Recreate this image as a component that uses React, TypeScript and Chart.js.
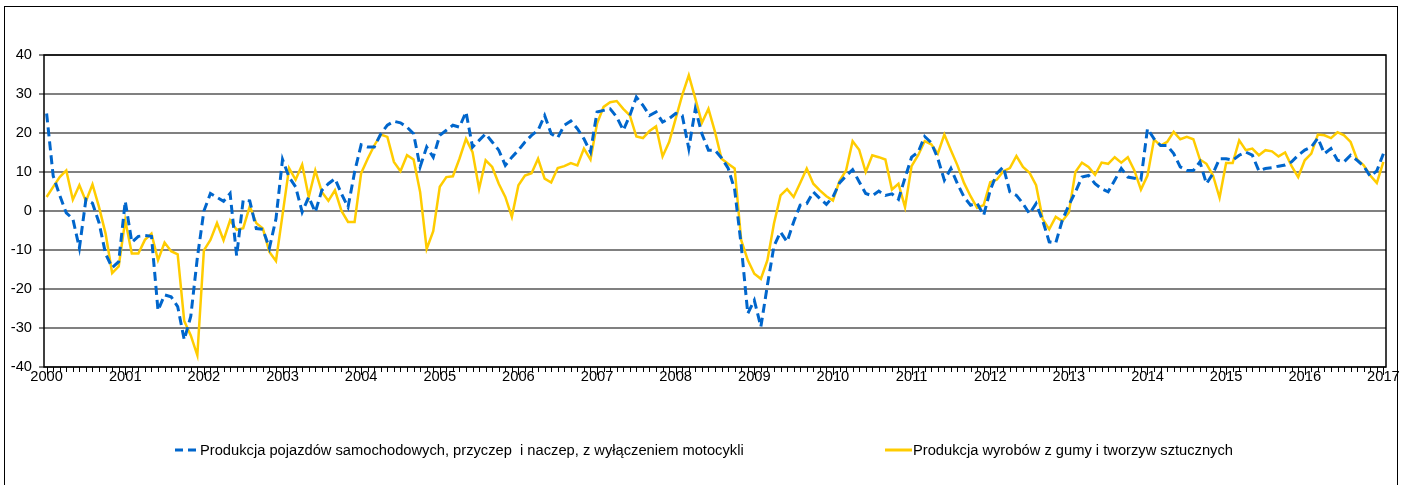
import React, { useEffect, useRef } from 'react';
import { Chart, registerables } from 'chart.js';

Chart.register(...registerables);

const yearLabels = ['2000','2001','2002','2003','2004','2005','2006','2007','2008','2009','2010','2011','2012','2013','2014','2015','2016','2017'];

const seriesNames = [
  'Produkcja pojazdów samochodowych, przyczep  i naczep, z wyłączeniem motocykli',
  'Produkcja wyrobów z gumy i tworzyw sztucznych',
];

// monthly values, Jan 2000 .. Jan 2017
const vehicles = [
  25, 9, 4, -0.5, -2, -9.5, 3, 2, -3, -11, -14.5, -13,
  2.5, -8, -6.5, -6.3, -6.5, -25.5, -21.5, -22, -24.5, -33, -27, -12,
  0, 4.5, 3.5, 2.5, 4.5, -11.5, 2.8, 2.6, -4.5, -4.7, -9.5, -2,
  13.2, 8.7, 6.2, -0.3, 3.6, -0.3, 5.3, 7.0, 8.3, 4.4, 1.0, 10.0,
  17.0, 16.4, 16.4, 19.8, 22.0, 23.0, 22.6, 21.5, 19.8, 11.3, 16.4, 13.8,
  19.4, 20.7, 22.0, 21.5, 25.4, 16.4, 18.1, 19.8, 17.7, 15.6, 11.7, 13.8,
  15.6, 17.7, 19.4, 20.7, 24.5, 19.8, 18.8, 22.0, 23.1, 21.1, 18.5, 15.1,
  25.4, 25.8, 26.2, 24.1, 20.7, 24.5, 29.2, 27.1, 24.5, 25.4, 22.8, 23.7,
  25.0, 24.5, 16.0, 26.2, 19.8, 15.6, 15.6, 13.6, 11, 5.5, -8.8, -26.3,
  -22.9, -29.7, -19, -9, -5.4, -7.9, -2.8, 1.5, 1.9, 4.9, 3.2, 1.7,
  3.6, 7.2, 9.0, 10.6, 7.5, 4.5, 3.9, 5.1, 4.0, 4.4, 3.0, 8.5,
  13.8, 15.1, 19.1, 17.5, 13.5, 7.9, 10.9, 7.0, 3.6, 1.5, 2.0, -1.1,
  5.3, 9.6, 11.3, 4.9, 4.0, 1.9, -0.7, 1.9, -2.4, -7.9, -8.2, -2.4,
  1.5, 4.9, 8.7, 9.1, 7.0, 5.7, 4.9, 7.9, 10.9, 8.7, 8.4, 8.0,
  21.1, 18.5, 16.8, 16.8, 14.7, 11.3, 10.4, 10.4, 12.6, 7.0, 9.6, 13.4,
  13.4, 13.0, 14.3, 15.1, 14.3, 10.3, 10.9, 11.1, 11.5, 11.8, 12.6, 14.3,
  15.6, 16.4, 18.7, 14.7, 16.0, 13.0, 12.6, 14.3, 13.0, 11.5, 8.9, 10.3,
  14.7,
];

const rubber = [
  3.6, 6.2, 8.7, 10.4, 2.9, 6.6, 2.5, 6.8, 1.0, -5.8, -15.9, -14.2,
  -2.4, -10.9, -10.9, -7.4, -5.8, -12.6, -8.1, -10.3, -11.1, -28.2, -31.9, -37.0,
  -10.1, -7.4, -3.1, -7.5, -2.4, -4.8, -4.4, 1.2, -3.1, -4.5, -10.5, -12.8,
  -1, 11.0, 8.0, 11.9, 3.6, 10.4, 4.9, 2.6, 5.3, 0, -2.8, -2.8,
  9.7, 13.4, 16.8, 19.6, 19.0, 12.6, 10.2, 14.3, 13.2, 4.9, -9.7, -5.2,
  6.2, 8.7, 8.9, 13.4, 18.5, 15.1, 5.7, 13.0, 11.3, 7.0, 3.6, -1.5,
  6.6, 9.1, 9.7, 13.4, 8.3, 7.3, 11.0, 11.5, 12.3, 11.7, 16.0, 13.2,
  22.4, 26.7, 27.9, 28.2, 26.2, 24.5, 19.1, 18.7, 20.5, 21.7, 14.0, 17.7,
  23.7, 29.7, 34.8, 28.8, 22.6, 26.2, 20.3, 13.4, 12.1, 10.9, -7.5, -12.6,
  -16.1, -17.4, -12.6, -3.2, 4.0, 5.6, 3.6, 7.2, 10.9, 7.0, 5.3, 3.8,
  2.7, 7.7, 10.4, 17.9, 15.7, 10.0, 14.3, 13.8, 13.2, 5.5, 7.0, 1.0,
  11.5, 14.3, 17.9, 17.1, 14.7, 19.6, 15.6, 11.7, 7.2, 3.8, 0.8, 1.5,
  7.4, 8.0, 10.2, 11.0, 14.1, 11.3, 9.8, 6.6, -2.0, -4.7, -1.5, -2.6,
  -0.4, 10.0, 12.4, 11.3, 9.3, 12.4, 12.1, 13.8, 12.4, 13.8, 10.4, 5.5,
  9.1, 18.3, 16.8, 17.7, 20.3, 18.4, 19.0, 18.4, 13.2, 12.1, 9.1, 3.4,
  12.3, 12.3, 18.1, 15.6, 16.0, 14.3, 15.6, 15.3, 14.0, 15.0, 11.5, 8.7,
  13.0, 14.7, 19.6, 19.4, 18.7, 20.2, 19.4, 17.7, 13.2, 11.7, 9.1, 7.2,
  12.6,
];

const yTicks = [-40, -30, -20, -10, 0, 10, 20, 30, 40];

const BLUE = '#0066CC';
const YELLOW = '#FFCC00';
const FONT = '"Liberation Sans", Arial, sans-serif';

const frameTicks = {
  id: 'frameTicks',
  afterDraw(chart: any) {
    const { ctx, chartArea } = chart;
    const xs = chart.scales.x;
    ctx.save();
    ctx.strokeStyle = '#000';
    ctx.lineWidth = 1.5;
    ctx.strokeRect(chartArea.left, chartArea.top, chartArea.right - chartArea.left, chartArea.bottom - chartArea.top);
    ctx.lineWidth = 1;
    for (let i = 0; i < vehicles.length; i++) {
      const x = Math.round(xs.getPixelForValue(i)) + 0.5;
      const len = i % 12 === 0 ? 8 : 5;
      ctx.beginPath();
      ctx.moveTo(x, chartArea.bottom);
      ctx.lineTo(x, chartArea.bottom + len);
      ctx.stroke();
    }
    ctx.restore();
  },
};

function App() {
  const ref = useRef<HTMLCanvasElement | null>(null);

  useEffect(() => {
    document.body.style.margin = '0';
    const canvas = ref.current;
    if (!canvas) return;
    const chart = new Chart(canvas, {
      type: 'line',
      data: {
        datasets: [
          {
            label: seriesNames[0],
            data: vehicles.map((v, i) => ({ x: i, y: v })),
            borderColor: BLUE,
            borderWidth: 3,
            borderDash: [9, 5],
            pointRadius: 0,
            tension: 0,
            fill: false,
          },
          {
            label: seriesNames[1],
            data: rubber.map((v, i) => ({ x: i, y: v })),
            borderColor: YELLOW,
            borderWidth: 2.5,
            pointRadius: 0,
            tension: 0,
            fill: false,
          },
        ],
      },
      options: {
        animation: false,
        responsive: false,
        maintainAspectRatio: false,
        layout: { padding: { left: 0, right: 16, top: 55, bottom: 0 } },
        plugins: { legend: { display: false }, tooltip: { enabled: false } },
        scales: {
          x: {
            type: 'linear',
            min: -0.4,
            max: vehicles.length - 1 + 0.4,
            afterBuildTicks: (scale: any) => {
              scale.ticks = yearLabels.map((_, k) => ({ value: k * 12 }));
            },
            afterFit: (scale: any) => { scale.height = 118; },
            grid: { display: false, drawTicks: false },
            border: { display: false },
            ticks: {
              autoSkip: false,
              maxRotation: 0,
              padding: 1,
              color: '#000',
              font: { family: FONT, size: 14.7 },
              callback: (v: any) => yearLabels[Math.round(Number(v) / 12)] ?? '',
            },
          },
          y: {
            min: -40,
            max: 40,
            afterBuildTicks: (scale: any) => {
              scale.ticks = yTicks.map((v) => ({ value: v }));
            },
            afterFit: (scale: any) => { scale.width = 44; },
            grid: { color: '#808080', lineWidth: 2, tickLength: 5, tickColor: '#000', tickWidth: 1 },
            border: { display: false },
            ticks: {
              padding: 7,
              color: '#000',
              font: { family: FONT, size: 14.7 },
            },
          },
        },
      },
      plugins: [frameTicks],
    } as any);
    return () => chart.destroy();
  }, []);

  const legendText: React.CSSProperties = {
    position: 'absolute',
    top: 441,
    fontFamily: FONT,
    fontSize: '14.7px',
    lineHeight: '18px',
    color: '#000',
    whiteSpace: 'pre',
  };

  return (
    <div style={{ position: 'relative', width: 1402, height: 485, overflow: 'hidden', background: '#fff' }}>
      <div style={{ position: 'absolute', left: 4, top: 6, width: 1392, height: 500, border: '1px solid #000' }} />
      <canvas ref={ref} width={1402} height={485} style={{ position: 'absolute', left: 0, top: 0, width: 1402, height: 485 }} />
      <svg style={{ position: 'absolute', left: 170, top: 444 }} width={30} height={12}>
        <line x1={5} y1={6} x2={27} y2={6} stroke={BLUE} strokeWidth={3} strokeDasharray="8 5" />
      </svg>
      <div style={{ ...legendText, left: 200 }}>{seriesNames[0]}</div>
      <svg style={{ position: 'absolute', left: 880, top: 444 }} width={34} height={12}>
        <line x1={5} y1={6} x2={32} y2={6} stroke={YELLOW} strokeWidth={3} />
      </svg>
      <div style={{ ...legendText, left: 913 }}>{seriesNames[1]}</div>
    </div>
  );
}

export default App;
